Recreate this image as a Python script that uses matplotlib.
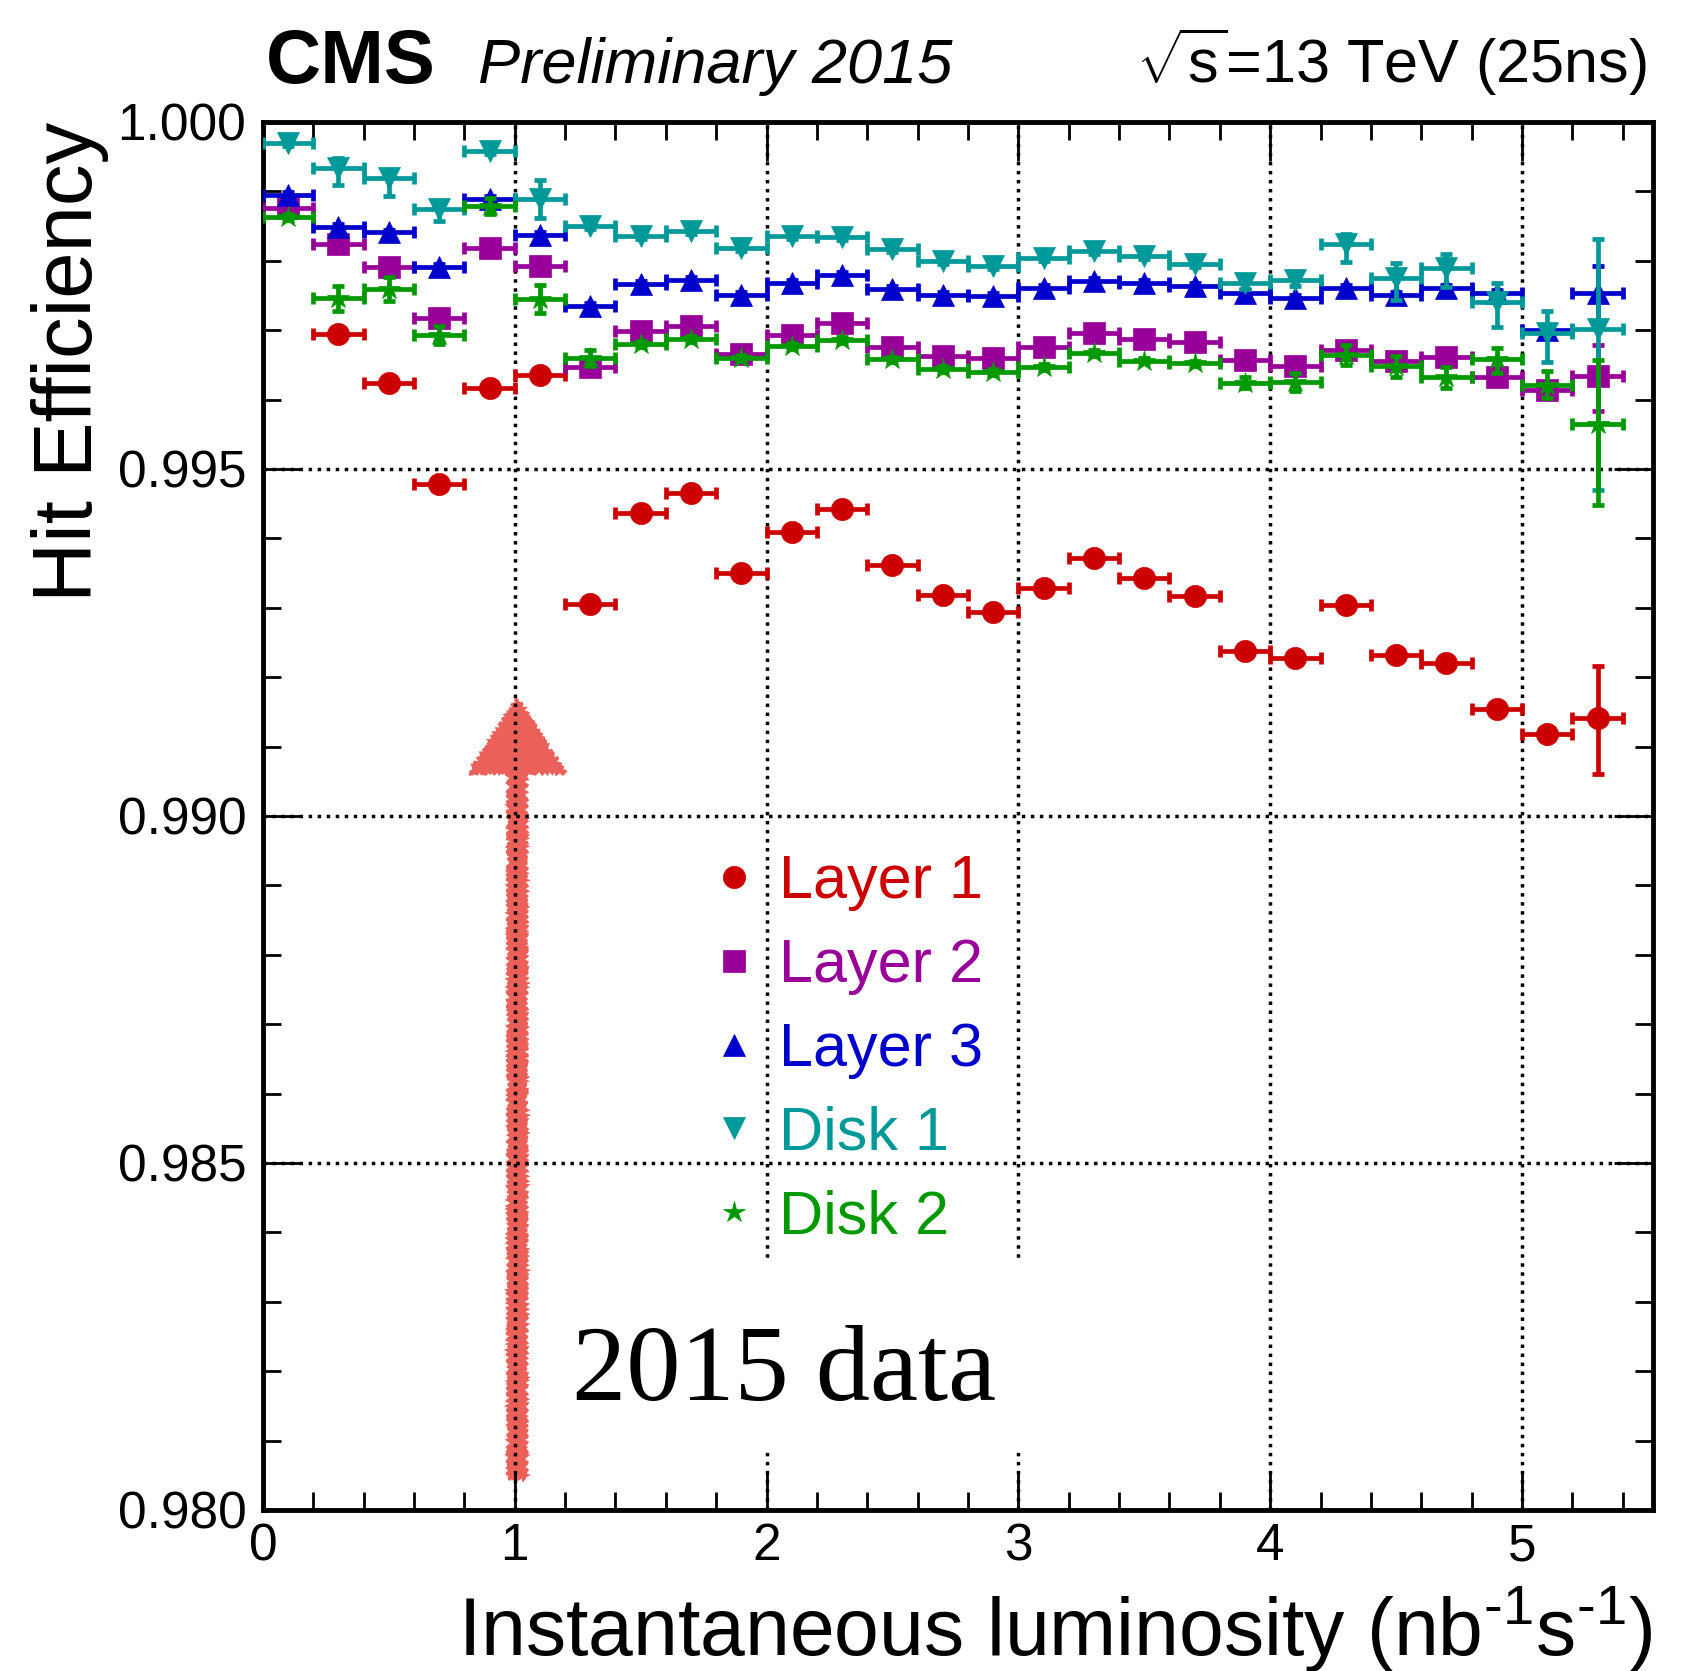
import numpy as np
import matplotlib
matplotlib.use('Agg')
import matplotlib.pyplot as plt
from matplotlib.ticker import MultipleLocator, FormatStrFormatter
from matplotlib.lines import Line2D
from matplotlib.patches import FancyArrow, Rectangle

plt.rcParams['font.family'] = ['Liberation Sans', 'DejaVu Sans']
plt.rcParams['mathtext.fontset'] = 'custom'
plt.rcParams['mathtext.rm'] = 'Liberation Sans'
plt.rcParams['mathtext.it'] = 'Liberation Sans:italic'
plt.rcParams['lines.markeredgewidth'] = 0.5

# luminosity bins (centres), each bin is 0.2 wide
lumi = [0.1, 0.3, 0.5, 0.7, 0.9, 1.1, 1.3, 1.5, 1.7, 1.9, 2.1, 2.3, 2.5, 2.7,
        2.9, 3.1, 3.3, 3.5, 3.7, 3.9, 4.1, 4.3, 4.5, 4.7, 4.9, 5.1, 5.3]
bin_half = 0.1

# hit efficiency per detector part
layer1 = [np.nan, 0.99694, 0.99624, 0.99478, 0.99616, 0.99635, 0.99305, 0.99437, 0.99466,
          0.99350, 0.99409, 0.99443, 0.99362, 0.99318, 0.99294, 0.99328, 0.99371, 0.99343,
          0.99317, 0.99238, 0.99227, 0.99304, 0.99232, 0.99221, 0.99154, 0.99118, 0.99141]
layer2 = [0.99876, 0.99824, 0.99791, 0.99717, 0.99818, 0.99792, 0.99647, 0.99699, 0.99706,
          0.99666, 0.99693, 0.99710, 0.99676, 0.99663, 0.99660, 0.99676, 0.99696, 0.99687,
          0.99683, 0.99657, 0.99648, 0.99671, 0.99656, 0.99661, 0.99633, 0.99614, 0.99634]
layer3 = [0.99895, 0.99849, 0.99841, 0.99791, 0.99889, 0.99837, 0.99735, 0.99767, 0.99772,
          0.99751, 0.99768, 0.99780, 0.99759, 0.99751, 0.99749, 0.99761, 0.99771, 0.99768,
          0.99764, 0.99754, 0.99746, 0.99761, 0.99751, 0.99761, 0.99754, 0.99700, 0.99754]
disk1 = [0.99970, 0.99934, 0.99919, 0.99875, 0.99958, 0.99889, 0.99850, 0.99836, 0.99843,
         0.99818, 0.99836, 0.99834, 0.99817, 0.99800, 0.99792, 0.99804, 0.99814, 0.99807,
         0.99795, 0.99768, 0.99772, 0.99824, 0.99775, 0.99790, 0.99741, 0.99696, 0.99702]
disk2 = [0.99863, 0.99746, 0.99759, 0.99693, 0.99879, 0.99745, 0.99660, 0.99680, 0.99687,
         0.99660, 0.99677, 0.99686, 0.99658, 0.99644, 0.99640, 0.99647, 0.99667, 0.99656,
         0.99652, 0.99624, 0.99626, 0.99664, 0.99648, 0.99633, 0.99658, 0.99621, 0.99565]

# asymmetric errors (down, up)
layer1_lo = [0.00004] * 26 + [0.00081]
layer1_hi = [0.00004] * 26 + [0.00075]
layer2_lo = [0.00004] * 26 + [0.00050]
layer2_hi = [0.00004] * 26 + [0.00045]
layer3_lo = [0.00004] * 26 + [0.00043]
layer3_hi = [0.00004] * 26 + [0.00039]
disk1_lo = [0.00004, 0.00025, 0.00025, 0.00018, 0.00004, 0.00027, 0.00004, 0.00004, 0.00004,
            0.00004, 0.00004, 0.00004, 0.00004, 0.00004, 0.00004, 0.00004, 0.00004, 0.00004,
            0.00004, 0.00008, 0.00008, 0.00026, 0.00031, 0.00028, 0.00036, 0.00042, 0.00233]
disk1_hi = [0.00004, 0.00014, 0.00012, 0.00010, 0.00004, 0.00027, 0.00004, 0.00004, 0.00004,
            0.00004, 0.00004, 0.00004, 0.00004, 0.00004, 0.00004, 0.00004, 0.00004, 0.00004,
            0.00004, 0.00008, 0.00008, 0.00015, 0.00022, 0.00020, 0.00027, 0.00032, 0.00130]
disk2_lo = [0.00004, 0.00018, 0.00017, 0.00013, 0.00011, 0.00020, 0.00012, 0.00004, 0.00004,
            0.00004, 0.00004, 0.00004, 0.00004, 0.00004, 0.00004, 0.00004, 0.00004, 0.00004,
            0.00004, 0.00008, 0.00013, 0.00014, 0.00016, 0.00016, 0.00019, 0.00019, 0.00117]
disk2_hi = [0.00004, 0.00018, 0.00017, 0.00013, 0.00011, 0.00020, 0.00012, 0.00004, 0.00004,
            0.00004, 0.00004, 0.00004, 0.00004, 0.00004, 0.00004, 0.00004, 0.00004, 0.00004,
            0.00004, 0.00008, 0.00013, 0.00014, 0.00015, 0.00014, 0.00016, 0.00020, 0.00092]

labels = ['Layer 1', 'Layer 2', 'Layer 3', 'Disk 1', 'Disk 2']
colors = ['#cc0000', '#990099', '#0000cc', '#009999', '#009900']
markers = ['o', 's', '^', 'v', '*']
msizes = [16, 15.5, 16, 16, 16]

values = [layer1, layer2, layer3, disk1, disk2]
err_lo = [layer1_lo, layer2_lo, layer3_lo, disk1_lo, disk2_lo]
err_hi = [layer1_hi, layer2_hi, layer3_hi, disk1_hi, disk2_hi]

fig = plt.figure(figsize=(16.91, 16.71), dpi=100)
ax = fig.add_axes([0.1555, 0.0964, 0.822, 0.8306])

for i in range(len(labels)):
    ax.errorbar(lumi, values[i], xerr=bin_half, yerr=[err_lo[i], err_hi[i]],
                fmt=markers[i], ms=msizes[i], mfc=colors[i], mec=colors[i],
                ecolor=colors[i], elinewidth=3.4, capsize=4.2, capthick=3.4,
                zorder=3 + 0.2 * i)

ax.set_xlim(0, 5.52)
ax.set_ylim(0.980, 1.000)

ax.xaxis.set_major_locator(MultipleLocator(1))
ax.xaxis.set_minor_locator(MultipleLocator(0.2))
ax.yaxis.set_major_locator(MultipleLocator(0.005))
ax.yaxis.set_minor_locator(MultipleLocator(0.001))
ax.xaxis.set_major_formatter(FormatStrFormatter('%d'))
ax.yaxis.set_major_formatter(FormatStrFormatter('%.3f'))

ax.tick_params(which='both', direction='in', top=True, right=True, width=2, color='black')
ax.tick_params(which='major', length=28, labelsize=37)
ax.tick_params(which='minor', length=13)
ax.tick_params(axis='y', which='major', pad=12)
ax.tick_params(axis='x', which='major', pad=9)
for sp in ax.spines.values():
    sp.set_linewidth(3.5)

ax.grid(True, which='major', color='black', linestyle=(0, (1, 1.6)), linewidth=2.5)

# hand-drawn arrow pointing at 1 nb^-1 s^-1
arrow_x = 1.01
arrow_tail = 0.98046
arrow_tip = 0.99167
arrow = FancyArrow(arrow_x, arrow_tail, 0, arrow_tip - arrow_tail, width=0.064,
                   head_width=0.373, head_length=0.00104, length_includes_head=True,
                   facecolor='#eb6159', edgecolor='#eb6159', linewidth=2, zorder=1)
arrow.set_sketch_params(scale=2, length=6, randomness=3)
ax.add_patch(arrow)

# white box behind "2015 data"
ax.add_patch(Rectangle((0.199, 0.0425), 0.36, 0.136, transform=ax.transAxes,
                       facecolor='white', edgecolor='none', zorder=1.8))
ax.text(0.2223, 0.0793, '2015 data', transform=ax.transAxes, fontsize=78,
        family=['Liberation Serif', 'DejaVu Serif'], ha='left', va='baseline', zorder=5)

handles = [Line2D([], [], ls='none', marker=markers[i], ms=msizes[i], color=colors[i])
           for i in range(len(labels))]
ax.legend(handles, labels, loc='upper left', bbox_to_anchor=(0.3212, 0.4725),
          frameon=False, fontsize=44, labelcolor=colors, handlelength=0.8,
          handletextpad=0.34, labelspacing=0.44, borderpad=0, borderaxespad=0)

ax.set_ylabel('Hit Efficiency', fontsize=60, loc='top')
ax.yaxis.label.set_va('center')
ax.yaxis.set_label_coords(-0.139, 1.0)
ax.set_xlabel(r'Instantaneous luminosity (nb$^{\text{-1}}$s$^{\text{-1}}$)',
              fontsize=58, loc='right')
ax.xaxis.label.set_va('baseline')
ax.xaxis.set_label_coords(1.0, -0.1045)

ax.text(0.002, 1.028, 'CMS', transform=ax.transAxes, fontsize=55, fontweight='bold',
        ha='left', va='baseline')
ax.text(0.1547, 1.028, 'Preliminary 2015', transform=ax.transAxes, fontsize=45.5,
        fontstyle='italic', ha='left', va='baseline')
ax.text(0.9957, 1.028, r'$\sqrt{\mathregular{s}}$=13 TeV (25ns)', transform=ax.transAxes,
        fontsize=44, ha='right', va='baseline')

fig.savefig('out.png', dpi=100)
